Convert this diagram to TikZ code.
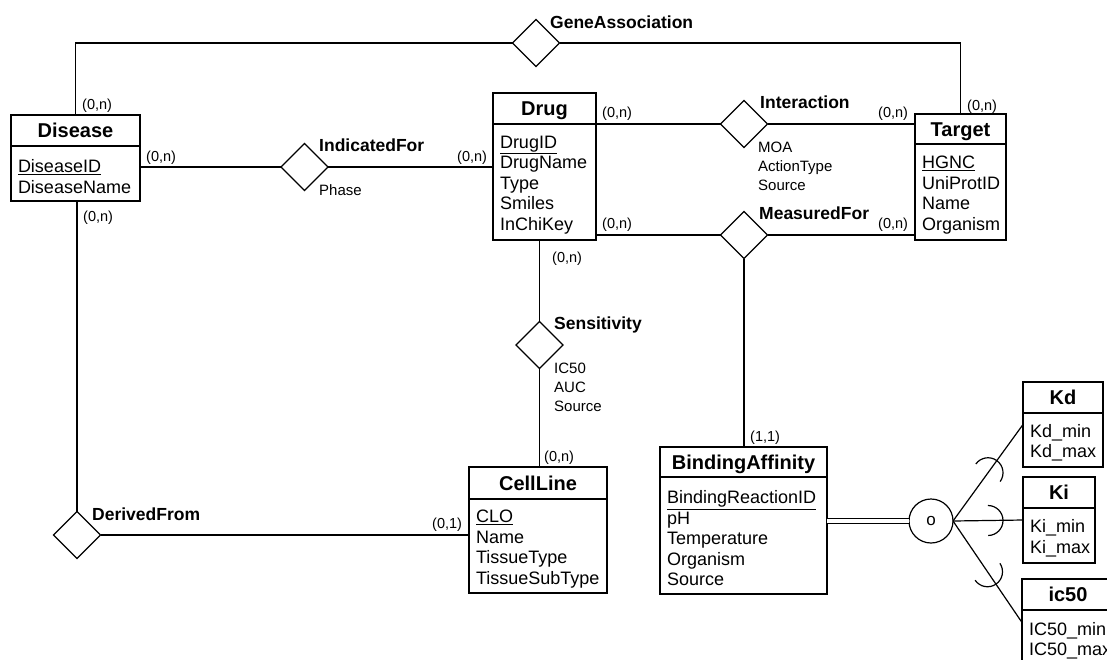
\documentclass[tikz,border=0pt]{standalone}
\usepackage{fontspec}
\setmainfont{Liberation Sans}
\usetikzlibrary{shapes.geometric,fit,calc}

% primary key: text with a rule below it
\newcommand{\pk}[1]{\setbox0=\hbox{#1}\leavevmode\rlap{\rule[\dimexpr-\dp0-2.4pt\relax]{\wd0}{1.2pt}}\box0}

% entity box: name, x, y, width, header height, body height, text width, title, attributes
\newcommand{\erentity}[9]{%
  \node[ehead, minimum width=#4pt, minimum height=#5pt, anchor=north west] (#1-h) at (#2,#3) {#8};
  \node[ebody, text width=#7pt, minimum height=#6pt, anchor=north west] (#1-b) at (#1-h.south west) {#9\par\kern-6pt};
  \node[fit=(#1-h)(#1-b), inner sep=0pt, outer sep=0pt] (#1) {};
}

\tikzset{
  conn/.style={line width=1.2pt},
  ehead/.style={draw, line width=1.2pt, outer sep=0pt, inner sep=0pt,
    font=\fontsize{20}{24}\selectfont\bfseries, text height=14.3pt, text depth=0pt},
  ebody/.style={draw, line width=1.2pt, outer sep=0pt, inner xsep=7pt, inner ysep=0pt,
    align=left, font=\fontsize{18}{20.5}\selectfont},
  rel/.style={draw, diamond, aspect=1, line width=1.2pt, minimum width=47pt,
    minimum height=47pt, inner sep=0pt, outer sep=0pt},
  rname/.style={font=\fontsize{17.5}{21}\selectfont\bfseries, inner sep=0pt, anchor=base west},
  rattr/.style={font=\fontsize{15}{19}\selectfont, inner sep=0pt, align=left, anchor=north west},
  card/.style={font=\fontsize{14.5}{17}\selectfont, inner sep=0pt, anchor=base west},
  isa/.style={draw, circle, line width=1.2pt, minimum size=44pt, inner sep=0pt,
    outer sep=0pt, font=\fontsize{17}{20}\selectfont},
  subset/.pic={\draw[line width=1.2pt] (0,-15) arc[start angle=-90, end angle=90, radius=15];}
}

\begin{document}
\begin{tikzpicture}[x=1pt, y=-1pt]
\useasboundingbox (0,0) rectangle (1107,659);
\fill[white] (0,0) rectangle (1107,659);
\clip (0,0) rectangle (1107,659);

% entities
\erentity{disease}{11}{115}{129}{31}{55}{115}{Disease}{\pk{DiseaseID}\\DiseaseName}
\erentity{drug}{493}{93}{103}{31}{116}{89}{Drug}{\pk{DrugID}\\DrugName\\Type\\Smiles\\InChiKey}
\erentity{target}{915}{114}{91}{30}{96}{77}{Target}{\pk{HGNC}\\UniProtID\\Name\\Organism}
\erentity{cell}{469}{467}{138}{32}{94}{124}{CellLine}{\pk{CLO}\\Name\\TissueType\\TissueSubType}
\erentity{ba}{660}{447}{167}{30}{117}{153}{BindingAffinity}{\pk{BindingReactionID}\\pH\\Temperature\\Organism\\Source}
\erentity{kd}{1023}{382}{80}{31}{54}{66}{Kd}{Kd\_min\\Kd\_max}
\erentity{ki}{1023}{477}{72}{31}{55}{58}{Ki}{Ki\_min\\Ki\_max}
\erentity{ic}{1022}{579}{92}{31}{56}{78}{ic50}{IC50\_min\\IC50\_max}

% relationships
\node[rel] (gene) at (536,43) {};
\node[rel] (ind) at (304.5,167) {};
\node[rel] (inter) at (744,124) {};
\node[rel] (meas) at (744,235) {};
\node[rel] (sens) at (539.5,345) {};
\node[rel] (derived) at (77,535) {};

\node[rname] (gene-l) at (550,28.3) {GeneAssociation};
\node[rname] (ind-l) at (319,151.3) {IndicatedFor};
\node[rname] (inter-l) at (760,108) {Interaction};
\node[rname] (meas-l) at (759,219.3) {MeasuredFor};
\node[rname] (sens-l) at (554,329.3) {Sensitivity};
\node[rname] (derived-l) at (92,520.3) {DerivedFrom};

\node[rattr] (ind-a) at (319,184.6) {Phase};
\node[rattr] (inter-a) at (758,141.6) {MOA\\ActionType\\Source};
\node[rattr] (sens-a) at (554,362.6) {IC50\\AUC\\Source};

% specialisation circle
\node[isa] (circ) at (931,521) {o};

% connectors
\draw[conn] (disease.north) |- (gene.west);
\draw[conn] (gene.east) -| (target.north);
\draw[conn] (ind.west) -- (ind.west -| disease.east);
\draw[conn] (ind.east) -- (ind.east -| drug.west);
\draw[conn] (inter.west) -- (inter.west -| drug.east);
\draw[conn] (inter.east) -- (inter.east -| target.west);
\draw[conn] (meas.west) -- (meas.west -| drug.east);
\draw[conn] (meas.east) -- (meas.east -| target.west);
\draw[conn] (sens.north) -- (sens.north |- drug.south);
\draw[conn] (sens.south) -- (sens.south |- cell.north);
\draw[conn] (meas.south) -- (meas.south |- ba.north);
\draw[conn] (derived.north) -- (derived.north |- disease.south);
\draw[conn] (derived.east) -- (derived.east -| cell.west);
\draw[line width=1pt, double, double distance=4.3pt] (circ.west) -- (circ.west -| ba.east);
\draw[conn] (circ.east) -- pic[pos=0.5, sloped]{subset} (kd.west);
\draw[conn] (circ.east) -- pic[pos=0.5, sloped]{subset} (ki.west);
\draw[conn] (circ.east) -- pic[pos=0.5, sloped]{subset} (ic.west);

% cardinalities
\node[card] (c1) at (82,109.5) {(0,n)};
\node[card] (c2) at (146,161.5) {(0,n)};
\node[card] (c3) at (83,221.5) {(0,n)};
\node[card] (c4) at (457,161.5) {(0,n)};
\node[card] (c5) at (602,117.5) {(0,n)};
\node[card] (c6) at (602,228.5) {(0,n)};
\node[card] (c7) at (552,262.5) {(0,n)};
\node[card] (c8) at (878,117.5) {(0,n)};
\node[card] (c9) at (878,228.5) {(0,n)};
\node[card] (c10) at (967,110.5) {(0,n)};
\node[card] (c11) at (544,461.5) {(0,n)};
\node[card] (c12) at (432,528.5) {(0,1)};
\node[card] (c13) at (750,441.5) {(1,1)};
\end{tikzpicture}
\end{document}
